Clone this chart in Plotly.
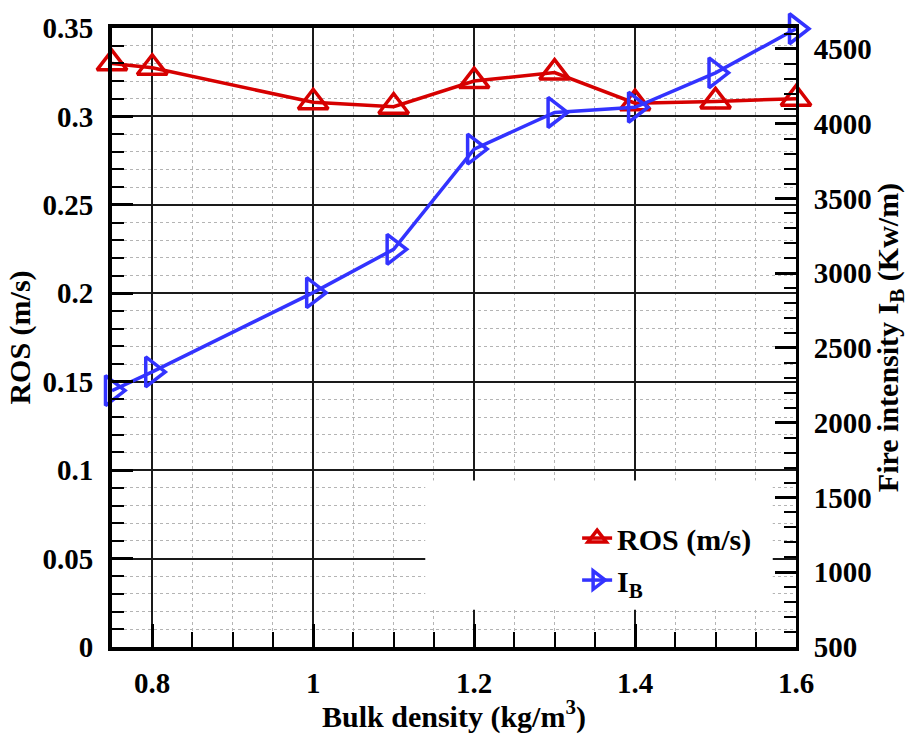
import plotly.graph_objects as go

# ---------------- data ----------------
bulk_density = [0.75, 0.8, 1.0, 1.1, 1.2, 1.3, 1.4, 1.5, 1.6]
ros = [0.330, 0.3275, 0.308, 0.3055, 0.320, 0.3248, 0.3075, 0.3085, 0.310]
fire_intensity = [2215, 2340, 2870, 3160, 3830, 4075, 4110, 4340, 4635]

x_tickvals = [0.8, 1.0, 1.2, 1.4, 1.6]
x_ticktext = ["0.8", "1", "1.2", "1.4", "1.6"]
y_tickvals = [0, 0.05, 0.1, 0.15, 0.2, 0.25, 0.3, 0.35]
y_ticktext = ["0", "0.05", "0.1", "0.15", "0.2", "0.25", "0.3", "0.35"]
y2_tickvals = [500, 1000, 1500, 2000, 2500, 3000, 3500, 4000, 4500]
y2_ticktext = ["500", "1000", "1500", "2000", "2500", "3000", "3500", "4000", "4500"]

RED = "rgb(214,0,0)"
BLUE = "rgb(51,51,255)"
FONT = "Liberation Serif"

fig = go.Figure()
fig.add_trace(go.Scatter(
    x=bulk_density, y=ros, name="ROS (m/s)", mode="lines+markers",
    line=dict(color=RED, width=3.5),
    marker=dict(symbol="triangle-up-open", size=26, color=RED, line=dict(width=3.5, color=RED)),
    cliponaxis=False,
))
fig.add_trace(go.Scatter(
    x=bulk_density, y=fire_intensity, name="I<sub>B</sub>", mode="lines+markers",
    yaxis="y2",
    line=dict(color=BLUE, width=3.5),
    marker=dict(symbol="triangle-right-open", size=26, color=BLUE, line=dict(width=3.5, color=BLUE)),
    cliponaxis=False,
))

# white box behind the legend that hides the grid
fig.add_shape(type="rect", xref="paper", yref="paper",
              x0=0.458, x1=0.966, y0=0.06, y1=0.269,
              fillcolor="white", line=dict(width=0), layer="above")

major_grid = "#1a1a1a"
minor_grid = "#b4b4b4"

fig.update_layout(
    width=909, height=734,
    margin=dict(l=112, r=109, t=22, b=76),
    paper_bgcolor="white", plot_bgcolor="white",
    font=dict(family=FONT, size=29, color="black", weight="bold"),
    showlegend=True,
    legend=dict(x=0.68, y=0.218, xanchor="left", yanchor="top",
                bgcolor="rgba(0,0,0,0)", font=dict(size=30, family=FONT, weight="bold"),
                tracegroupgap=0),
    xaxis=dict(
        range=[0.75, 1.6], tickmode="array", tickvals=x_tickvals, ticktext=x_ticktext,
        ticks="inside", ticklen=23, tickwidth=3, tickcolor="black",
        showline=True, linewidth=4, linecolor="black", mirror=True,
        showgrid=True, gridcolor=major_grid, gridwidth=1.5,
        zeroline=False, ticklabelstandoff=7,
        minor=dict(dtick=0.05, tick0=0.75, ticks="inside", ticklen=15, tickwidth=1.5,
                   tickcolor="black", showgrid=True, gridcolor=minor_grid,
                   griddash="dot", gridwidth=1.2),
        title=dict(text="Bulk density (kg/m<sup>3</sup>)", standoff=2,
                   font=dict(size=30, family=FONT, weight="bold")),
    ),
    yaxis=dict(
        range=[0, 0.35], tickmode="array", tickvals=y_tickvals, ticktext=y_ticktext,
        ticks="inside", ticklen=21, tickwidth=3, tickcolor="black",
        showline=True, linewidth=4, linecolor="black",
        showgrid=True, gridcolor=major_grid, gridwidth=1.5,
        zeroline=False, ticklabelstandoff=9,
        minor=dict(dtick=0.01, tick0=0, ticks="inside", ticklen=12, tickwidth=1.5,
                   tickcolor="black", showgrid=True, gridcolor=minor_grid,
                   griddash="dot", gridwidth=1.2),
        title=dict(text="ROS (m/s)", standoff=4,
                   font=dict(size=30, family=FONT, weight="bold")),
    ),
    yaxis2=dict(
        overlaying="y", side="right", range=[500, 4640],
        tickmode="array", tickvals=y2_tickvals, ticktext=y2_ticktext,
        ticks="inside", ticklen=21, tickwidth=3, tickcolor="black",
        showline=True, linewidth=3, linecolor="black",
        showgrid=False, zeroline=False, ticklabelstandoff=9,
        minor=dict(dtick=100, tick0=500, ticks="inside", ticklen=12, tickwidth=1.5,
                   tickcolor="black", showgrid=False),
        title=dict(text="Fire intensity I<sub>B</sub> (Kw/m)", standoff=4,
                   font=dict(size=30, family=FONT, weight="bold")),
    ),
)

fig.write_html("out.html")
